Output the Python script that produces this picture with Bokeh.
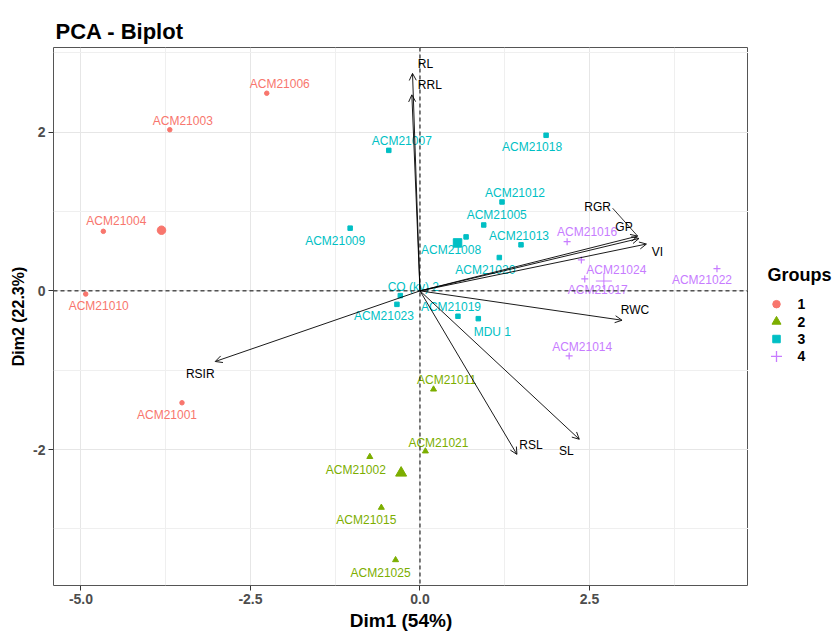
import numpy as np
from bokeh.plotting import figure
from bokeh.layouts import row
from bokeh.models import (ColumnDataSource, Range1d, FixedTicker, PrintfTickFormatter,
                          Span, Arrow, OpenHead)
from bokeh.core.properties import value
from bokeh.embed import file_html
from bokeh.resources import INLINE

# ---------------- data ----------------
ind_names = ["ACM21006", "ACM21003", "ACM21004", "ACM21010", "ACM21001",
             "ACM21011", "ACM21021", "ACM21002", "ACM21015", "ACM21025",
             "ACM21007", "ACM21018", "ACM21012", "ACM21005", "ACM21008", "ACM21013",
             "ACM21020", "CO (kv) 2", "ACM21023", "ACM21009", "ACM21019", "MDU 1",
             "ACM21016", "ACM21024", "ACM21017", "ACM21022", "ACM21014"]
ind_group = ["1", "1", "1", "1", "1",
             "2", "2", "2", "2", "2",
             "3", "3", "3", "3", "3", "3", "3", "3", "3", "3", "3", "3",
             "4", "4", "4", "4", "4"]
ind_dim1 = [-2.26, -3.69, -4.67, -4.93, -3.51,
            0.20, 0.08, -0.74, -0.57, -0.36,
            -0.46, 1.86, 1.21, 0.94, 0.68, 1.49, 1.17, -0.29, -0.34, -1.03, 0.56, 0.86,
            2.17, 2.38, 2.43, 4.38, 2.20]
ind_dim2 = [2.49, 2.03, 0.75, -0.04, -1.41,
            -1.24, -2.02, -2.09, -2.73, -3.39,
            1.77, 1.96, 1.12, 0.83, 0.68, 0.58, 0.42, -0.06, -0.17, 0.79, -0.32, -0.35,
            0.62, 0.39, 0.15, 0.28, -0.82]

var_names = ["RL", "RRL", "RGR", "GP", "VI", "RWC", "SL", "RSL", "RSIR"]
var_dim1 = [-0.11, -0.12, 3.21, 3.23, 3.34, 2.98, 2.35, 1.43, -3.02]
var_dim2 = [2.74, 2.47, 0.69, 0.66, 0.59, -0.37, -1.87, -2.06, -0.89]

groups = ["1", "2", "3", "4"]
legend_title = "Groups"
x_ticks = [-5.0, -2.5, 0.0, 2.5]
y_ticks = [-2, 0, 2]

# ---------------- layout / style (not data) ----------------
ind_label_dx = [13, 13, 13, 13, -15,
                13, 13, -14, -15, -15,
                13, -14, 13, 13, -15, -2, -14, 13, -13, -15, -7, 14,
                20, 35, 13, -15, 13]
ind_label_dy = [-9, -9, -10, 12, 12,
                -9, -8, 13, 12, 13,
                -9, 12, -9, -10, 13, -9, 12, -9, 12, 13, -9, 13,
                -10, 10, 11, 11, -9]
var_label_dx = [13, 18, -40, -15, 11, 13, -13, 14, -15]
var_label_dy = [-9, -10, -29, -11, 8, -10, 12, -9, 12]

group_colors = {"1": "#F8766D", "2": "#7CAE00", "3": "#00BFC4", "4": "#C77CFF"}
group_markers = {"1": "circle", "2": "triangle", "3": "square", "4": "cross"}
point_sizes = {"1": 4.5, "2": 6, "3": 4.5, "4": 7}
centroid_sizes = {"1": 8.5, "2": 11, "3": 8.5, "4": 16}
legend_sizes = {"1": 7.5, "2": 9, "3": 7.5, "4": 11}
FONT = "Liberation Sans"

X0, X1 = -5.405, 4.845
Y0, Y1 = -3.712, 3.066
FW, FH = 695, 540
px_x = FW / (X1 - X0)
px_y = FH / (Y1 - Y0)

p = figure(width=53 + FW, height=633, output_backend="svg", toolbar_location=None,
           x_range=Range1d(X0, X1), y_range=Range1d(Y0, Y1),
           min_border_left=53, min_border_right=0, min_border_top=47, min_border_bottom=46)
p.background_fill_color = "white"
p.border_fill_color = "white"
p.outline_line_color = "#555555"
p.outline_line_width = 1

p.title.text = "PCA - Biplot"
p.title.text_font = FONT
p.title.text_font_size = "22px"
p.title.text_font_style = "bold"
p.title.text_color = "black"
p.title.offset = 2
p.title.standoff = 7

p.xaxis.ticker = FixedTicker(ticks=x_ticks, minor_ticks=[-3.75, -1.25, 1.25, 3.75])
p.yaxis.ticker = FixedTicker(ticks=y_ticks, minor_ticks=[-3, -1, 1, 3])
p.xaxis.formatter = PrintfTickFormatter(format="%.1f")
p.yaxis.formatter = PrintfTickFormatter(format="%d")
p.xaxis.axis_label = "Dim1 (54%)"
p.yaxis.axis_label = "Dim2 (22.3%)"
for ax in (p.xaxis, p.yaxis):
    ax.axis_line_color = None
    ax.major_tick_out = 5
    ax.major_tick_in = 0
    ax.major_tick_line_color = "#333333"
    ax.minor_tick_out = 0
    ax.minor_tick_in = 0
    ax.major_label_text_font = FONT
    ax.major_label_text_font_size = "14px"
    ax.major_label_text_font_style = "bold"
    ax.major_label_text_color = "#4D4D4D"
    ax.major_label_standoff = 3
    ax.axis_label_text_font = FONT
    ax.axis_label_text_font_style = "bold"
    ax.axis_label_text_color = "black"
    ax.axis_label_standoff = 3
p.xaxis.axis_label_text_font_size = "19px"
p.yaxis.axis_label_text_font_size = "16px"

for g in (p.xgrid, p.ygrid):
    g.grid_line_color = "#E6E6E6"
    g.grid_line_width = 1
    g.minor_grid_line_color = "#EFEFEF"
    g.minor_grid_line_width = 1

# dashed zero lines
p.add_layout(Span(location=0, dimension="height", line_color="black", line_dash="4 3", line_width=1))
p.add_layout(Span(location=0, dimension="width", line_color="black", line_dash="4 3", line_width=1))

# individuals
colors = [group_colors[g] for g in ind_group]
ind_src = ColumnDataSource(dict(x=ind_dim1, y=ind_dim2, name=ind_names, group=ind_group,
                                color=colors, dx=ind_label_dx, dy=ind_label_dy))
for g in groups:
    idx = [i for i, gg in enumerate(ind_group) if gg == g]
    xs = [ind_dim1[i] for i in idx]
    ys = [ind_dim2[i] for i in idx]
    src = ColumnDataSource(dict(x=xs, y=ys))
    if group_markers[g] == "cross":
        p.scatter("x", "y", source=src, marker="cross", size=point_sizes[g],
                  line_color=group_colors[g], line_width=1.2)
        p.scatter([float(np.mean(xs))], [float(np.mean(ys))], marker="cross",
                  size=centroid_sizes[g], line_color=group_colors[g], line_width=1)
    else:
        p.scatter("x", "y", source=src, marker=group_markers[g], size=point_sizes[g],
                  fill_color=group_colors[g], line_color=group_colors[g])
        p.scatter([float(np.mean(xs))], [float(np.mean(ys))], marker=group_markers[g],
                  size=centroid_sizes[g], fill_color=group_colors[g], line_color=group_colors[g])

p.text("x", "y", text="name", source=ind_src, x_offset="dx", y_offset="dy",
       text_color="color", text_font=value(FONT), text_font_size="12px",
       text_align="center", text_baseline="middle")

# variables (arrows)
var_src = ColumnDataSource(dict(x0=[0.0] * len(var_names), y0=[0.0] * len(var_names),
                                x=var_dim1, y=var_dim2, name=var_names,
                                dx=var_label_dx, dy=var_label_dy))
p.add_layout(Arrow(source=var_src, x_start="x0", y_start="y0", x_end="x", y_end="y",
                   line_color="black", line_width=0.9,
                   end=OpenHead(size=7, line_color="black", line_width=0.9)))
# connector from RGR label to its arrow tip
i_rgr = var_names.index("RGR")
p.segment(x0=[var_dim1[i_rgr]], y0=[var_dim2[i_rgr]],
          x1=[var_dim1[i_rgr] - 25 / px_x], y1=[var_dim2[i_rgr] + 28 / px_y],
          line_color="black", line_width=0.8)
p.text("x", "y", text="name", source=var_src, x_offset="dx", y_offset="dy",
       text_color="black", text_font=value(FONT), text_font_size="12px",
       text_align="center", text_baseline="middle")

# ---------------- legend panel (separate narrow figure, pixel coordinates) ----------------
LW = 839 - (53 + FW)
leg = figure(width=LW, height=633, output_backend="svg", toolbar_location=None,
             x_range=Range1d(0, LW), y_range=Range1d(633, 0),
             min_border_left=0, min_border_right=0, min_border_top=0, min_border_bottom=0)
leg.axis.visible = False
leg.grid.visible = False
leg.outline_line_color = None
leg.background_fill_color = "white"
leg.border_fill_color = "white"

leg.text(x=[19], y=[268], text=[legend_title], text_font=value(FONT), text_font_size="18px",
         text_font_style="bold", text_color="black", text_align="left", text_baseline="middle")
row_y = [302 + 20.5 * i for i in range(len(groups))]
for i, g in enumerate(groups):
    if group_markers[g] == "cross":
        leg.scatter([28], [row_y[i]], marker="cross", size=legend_sizes[g],
                    line_color=group_colors[g], line_width=1.3)
    else:
        leg.scatter([28], [row_y[i]], marker=group_markers[g], size=legend_sizes[g],
                    fill_color=group_colors[g], line_color=group_colors[g])
leg.text(x=[49] * len(groups), y=row_y, text=groups, text_font=value(FONT),
         text_font_size="14px", text_font_style="bold", text_color="black",
         text_align="left", text_baseline="middle")

layout = row(p, leg, spacing=0)
open("out.html", "w").write(file_html(layout, INLINE))
